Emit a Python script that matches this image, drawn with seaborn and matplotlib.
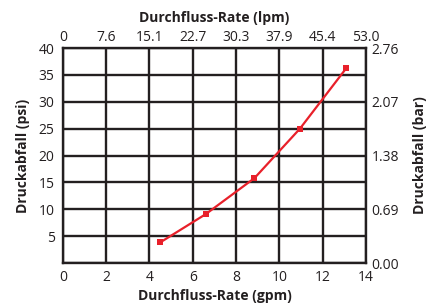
import numpy as np
import pandas as pd
import matplotlib
matplotlib.use("Agg")
import matplotlib.pyplot as plt
import seaborn as sns

# ================= DATA =================

flow_gpm = [4.5, 6.6, 8.85, 10.95, 13.1]
drop_psi = [3.85, 9.1, 15.8, 25.0, 36.3]

gpm_ticks = [0, 2, 4, 6, 8, 10, 12, 14]
lpm_labels = ["0", "7.6", "15.1", "22.7", "30.3", "37.9", "45.4", "53.0"]
psi_ticks = [0, 5, 10, 15, 20, 25, 30, 35, 40]
psi_labels = ["", "5", "10", "15", "20", "25", "30", "35", "40"]
bar_ticks = [0, 10, 20, 30, 40]
bar_labels = ["0.00", "0.69", "1.38", "2.07", "2.76"]

df = pd.DataFrame({"gpm": flow_gpm, "psi": drop_psi})

# ================= STYLE =================

sns.set_style("white")
plt.rcParams["font.family"] = ["Open Sans", "DejaVu Sans"]

red = "#e8202a"
ink = "#231f20"

fig = plt.figure(figsize=(4.28, 3.08), dpi=100)
ax = fig.add_axes([0.147, 0.146, 0.708, 0.698])

sns.lineplot(
    data=df, x="gpm", y="psi", ax=ax,
    color=red, linewidth=1.6, marker="s",
    markersize=4, markeredgewidth=0
)

ax.set_xlim(0, 14)
ax.set_ylim(0, 40)
ax.set_xticks(gpm_ticks)
ax.set_yticks(psi_ticks)
ax.set_yticklabels(psi_labels)
ax.grid(True, color=ink, linewidth=1.7)
ax.set_axisbelow(True)
for s in ax.spines.values():
    s.set_color(ink)
    s.set_linewidth(1.7)
ax.tick_params(axis="x", length=0, labelsize=10, colors=ink, pad=5)
ax.tick_params(axis="y", length=0, labelsize=10, colors=ink, pad=6)

ax.set_xlabel("Durchfluss-Rate (gpm)", fontsize=10, fontweight="bold",
              color=ink, labelpad=3)
ax.set_ylabel("Druckabfall (psi)", fontsize=10, fontweight="bold",
              color=ink, labelpad=6)

# top axis (lpm)
top = ax.twiny()
top.set_xlim(ax.get_xlim())
top.set_xticks(gpm_ticks)
top.set_xticklabels(lpm_labels)
top.tick_params(length=0, labelsize=10, colors=ink, pad=2)
top.set_xlabel("Durchfluss-Rate (lpm)", fontsize=10, fontweight="bold",
               color=ink, labelpad=6)

# right axis (bar)
right = ax.twinx()
right.set_ylim(ax.get_ylim())
right.set_yticks(bar_ticks)
right.set_yticklabels(bar_labels)
right.tick_params(length=0, labelsize=10, colors=ink, pad=4)
right.set_ylabel("Druckabfall (bar)", fontsize=10, fontweight="bold",
                 color=ink, labelpad=10)

for a in (top, right):
    for s in a.spines.values():
        s.set_visible(False)

fig.savefig("out.png", dpi=100)
